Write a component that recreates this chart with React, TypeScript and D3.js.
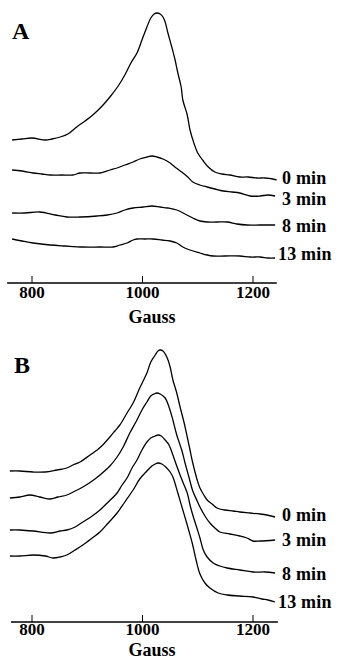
import React from "react";
import * as d3 from "d3";

// Field values (Gauss) shown on the axis
const GAUSS_TICKS = [800, 1000, 1200];
const TIME_LABELS = ["0 min", "3 min", "8 min", "13 min"];
const PANEL_NAMES = ["A", "B"];

// Panel A traces: [field (G), stacked signal (a.u.)]
const A_0MIN: [number, number][] = [
  [764, 143], [782, 144], [800, 145], [824, 143], [836, 144], [851, 146], [865, 149], [881, 156],
  [896, 162], [910, 168], [927, 177], [941, 186], [956, 197], [968, 208], [979, 220], [990, 230],
  [999, 243], [1008, 256], [1015, 265], [1021, 269], [1026, 270], [1032, 269], [1037, 266],
  [1041, 261], [1046, 250], [1053, 236], [1059, 223], [1064, 210], [1070, 196], [1073, 183],
  [1081, 168], [1086, 153], [1093, 140], [1100, 130], [1110, 122], [1119, 116], [1131, 111],
  [1144, 109], [1158, 108], [1176, 106], [1191, 106], [1207, 105], [1222, 105], [1236, 104], [1243, 103],
];
const A_3MIN: [number, number][] = [
  [764, 113], [782, 112], [802, 110], [818, 109], [833, 108], [854, 108], [874, 108], [887, 110],
  [905, 110], [923, 110], [941, 113], [954, 115], [968, 118], [983, 121], [995, 124], [1008, 126],
  [1017, 127], [1026, 126], [1037, 124], [1050, 120], [1061, 115], [1071, 111], [1082, 106],
  [1091, 101], [1104, 98], [1117, 96], [1131, 94], [1146, 92], [1162, 91], [1176, 90], [1195, 87],
  [1213, 87], [1227, 88], [1240, 87],
];
const A_8MIN: [number, number][] = [
  [764, 70], [787, 70], [814, 71], [842, 68], [863, 66], [887, 66], [918, 67], [936, 68], [954, 70],
  [968, 73], [983, 75], [1001, 76], [1017, 77], [1032, 76], [1046, 75], [1062, 73], [1077, 69],
  [1091, 65], [1104, 62], [1117, 61], [1135, 61], [1153, 61], [1171, 59], [1189, 58], [1213, 58], [1240, 58],
];
const A_13MIN: [number, number][] = [
  [764, 44], [782, 42], [802, 40], [833, 38], [860, 37], [892, 36], [923, 36], [947, 36], [959, 38],
  [972, 40], [983, 43], [990, 44], [1004, 44], [1019, 44], [1035, 43], [1050, 42], [1062, 40],
  [1073, 36], [1086, 33], [1104, 30], [1117, 28], [1128, 27], [1149, 27], [1176, 27], [1195, 26],
  [1213, 26], [1227, 25], [1240, 25],
];

// Panel B traces
const B_0MIN: [number, number][] = [
  [760, 151], [778, 151], [802, 150], [824, 150], [845, 152], [863, 154], [874, 157], [887, 160],
  [905, 167], [918, 172], [928, 177], [941, 185], [950, 191], [959, 197], [972, 209], [983, 219],
  [995, 234], [1008, 249], [1015, 260], [1023, 267], [1028, 271], [1032, 272], [1037, 271],
  [1044, 265], [1050, 255], [1055, 242], [1062, 229], [1068, 215], [1075, 200], [1081, 185],
  [1086, 172], [1091, 159], [1099, 142], [1104, 134], [1111, 127], [1117, 122], [1126, 118],
  [1135, 114], [1149, 112], [1164, 111], [1176, 110], [1195, 109], [1213, 108], [1225, 107], [1240, 105],
];
const B_3MIN: [number, number][] = [
  [760, 124], [778, 125], [796, 127], [814, 125], [833, 123], [847, 125], [863, 127], [878, 131],
  [892, 135], [909, 141], [923, 147], [941, 156], [954, 165], [965, 175], [977, 189], [990, 202],
  [999, 212], [1008, 220], [1015, 226], [1021, 228], [1026, 229], [1032, 228], [1041, 224],
  [1048, 215], [1055, 202], [1062, 187], [1071, 172], [1077, 159], [1084, 145], [1091, 131],
  [1099, 121], [1104, 115], [1113, 106], [1122, 99], [1131, 94], [1140, 90], [1158, 88], [1176, 86],
  [1189, 84], [1200, 81], [1213, 81], [1240, 82],
];
const B_8MIN: [number, number][] = [
  [760, 92], [778, 92], [802, 91], [833, 89], [851, 91], [863, 92], [878, 95], [892, 100], [909, 106],
  [923, 112], [938, 120], [954, 129], [963, 137], [972, 144], [981, 154], [990, 162], [999, 172],
  [1008, 180], [1015, 184], [1023, 186], [1028, 187], [1034, 186], [1041, 182], [1048, 177],
  [1055, 167], [1062, 156], [1068, 147], [1073, 140], [1081, 129], [1086, 117], [1091, 107],
  [1099, 93], [1104, 84], [1110, 72], [1117, 65], [1128, 59], [1140, 56], [1153, 54], [1176, 52],
  [1200, 50], [1222, 50], [1240, 49],
];
const B_13MIN: [number, number][] = [
  [760, 66], [778, 66], [802, 67], [824, 66], [838, 64], [851, 65], [863, 67], [878, 72], [892, 77],
  [909, 84], [923, 90], [938, 99], [954, 109], [968, 120], [983, 132], [995, 143], [1008, 151],
  [1017, 156], [1023, 158], [1028, 159], [1035, 158], [1042, 155], [1050, 150], [1055, 145],
  [1064, 129], [1073, 112], [1082, 95], [1090, 79], [1097, 62], [1104, 48], [1113, 39], [1122, 34],
  [1137, 29], [1153, 27], [1176, 26], [1200, 25], [1216, 23], [1227, 22], [1240, 20],
];

const PANEL_A = [A_0MIN, A_3MIN, A_8MIN, A_13MIN];
const PANEL_B = [B_0MIN, B_3MIN, B_8MIN, B_13MIN];

const FONT = "'Liberation Serif', 'Times New Roman', serif";

type PanelSpec = {
  name: string;
  series: [number, number][][];
  axisY: number;
  topY: number;
  topVal: number;
  axisDomain: [number, number];
  tickLabelY: number;
  titleY: number;
  nameY: number;
  nameX: number;
  labelY: number[];
};

const W = 339;
const H = 660;

export default function App() {
  const x = d3.scaleLinear().domain([800, 1200]).range([32, 253]);

  const panels: PanelSpec[] = [
    {
      name: PANEL_NAMES[0], series: PANEL_A, axisY: 283, topY: 13, topVal: 270,
      axisDomain: [755, 1243], tickLabelY: 298, titleY: 323, nameY: 39, nameX: 12,
      labelY: [184, 205, 232, 260],
    },
    {
      name: PANEL_NAMES[1], series: PANEL_B, axisY: 622, topY: 350, topVal: 272,
      axisDomain: [762, 1245], tickLabelY: 635, titleY: 656, nameY: 373, nameX: 14,
      labelY: [521, 546, 580, 608],
    },
  ];

  return (
    <svg width={W} height={H} style={{ position: "absolute", left: 0, top: 0, background: "#fff" }}>
      <rect width={W} height={H} fill="#fff" />
      {panels.map((p) => {
        const y = d3.scaleLinear().domain([0, p.topVal]).range([p.axisY, p.topY]);
        const line = d3
          .line<[number, number]>()
          .x((d) => x(d[0]))
          .y((d) => y(d[1]))
          .curve(d3.curveCatmullRom.alpha(0.5));
        return (
          <g key={p.name}>
            <text x={p.nameX} y={p.nameY} fontFamily={FONT} fontWeight="bold" fontSize={24} fill="#000">
              {p.name}
            </text>
            {p.series.map((s, i) => (
              <path key={i} d={line(s) || ""} fill="none" stroke="#000" strokeWidth={1.3} strokeLinejoin="round" />
            ))}
            {TIME_LABELS.map((t, i) => (
              <text
                key={t}
                x={i === 3 ? 278 : 282}
                y={p.labelY[i]}
                fontFamily={FONT}
                fontWeight="bold"
                fontSize={18}
                letterSpacing={0.2}
                fill="#000"
              >
                {t}
              </text>
            ))}
            <line
              x1={x(p.axisDomain[0])}
              x2={x(p.axisDomain[1])}
              y1={p.axisY}
              y2={p.axisY}
              stroke="#000"
              strokeWidth={1.3}
            />
            {GAUSS_TICKS.map((g) => (
              <g key={g}>
                <line x1={x(g)} x2={x(g)} y1={p.axisY} y2={p.axisY - 7} stroke="#000" strokeWidth={1} />
                <text
                  x={x(g)}
                  y={p.tickLabelY}
                  textAnchor="middle"
                  fontFamily={FONT}
                  fontWeight="bold"
                  fontSize={17}
                  fill="#000"
                >
                  {g}
                </text>
              </g>
            ))}
            <text
              x={152}
              y={p.titleY}
              textAnchor="middle"
              fontFamily={FONT}
              fontWeight="bold"
              fontSize={18}
              fill="#000"
            >
              Gauss
            </text>
          </g>
        );
      })}
    </svg>
  );
}
